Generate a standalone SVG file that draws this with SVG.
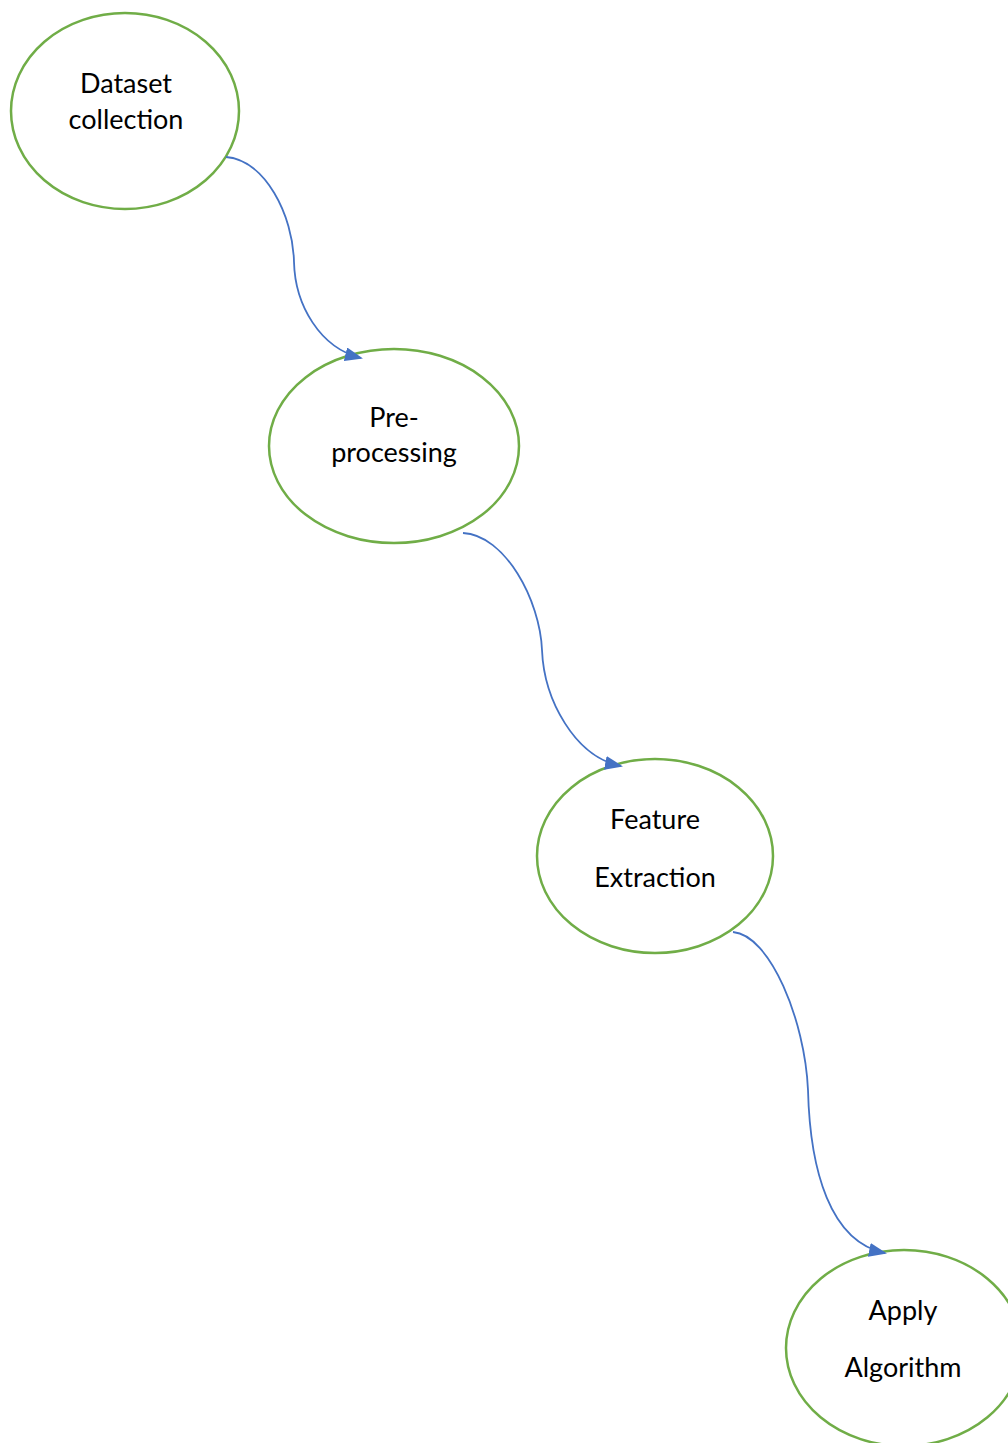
<svg xmlns="http://www.w3.org/2000/svg" width="1008" height="1443" viewBox="0 0 1008 1443">
  <style>
    .node { fill: #ffffff; stroke: #70AD47; stroke-width: 2.5; }
    .label { font-family: Lato, "Open Sans", sans-serif; font-size: 27px; fill: #000000; text-anchor: middle; }
    .edge { fill: none; stroke: #4472C4; stroke-width: 1.8; marker-end: url(#arrowhead); }
  </style>
  <defs>
    <marker id="arrowhead" viewBox="0 0 18 14" refX="16" refY="7" markerWidth="18" markerHeight="14" markerUnits="userSpaceOnUse" orient="auto">
      <path d="M0,0 L18,7 L0,14 Z" fill="#4472C4"/>
    </marker>
  </defs>
  <rect width="1008" height="1443" fill="#ffffff"/>

  <g id="node-dataset">
    <ellipse class="node" cx="125" cy="111" rx="114" ry="98"/>
    <text class="label" x="126" y="93">Dataset</text>
    <text class="label" x="126" y="129">collection</text>
  </g>

  <g id="node-preprocessing">
    <ellipse class="node" cx="394" cy="446" rx="125" ry="97"/>
    <text class="label" x="394" y="427">Pre-</text>
    <text class="label" x="394" y="462">processing</text>
  </g>

  <g id="node-features">
    <ellipse class="node" cx="655" cy="856" rx="118" ry="97"/>
    <text class="label" x="655" y="829">Feature</text>
    <text class="label" x="655" y="887">Extraction</text>
  </g>

  <g id="node-algorithm">
    <ellipse class="node" cx="904" cy="1348" rx="118" ry="98"/>
    <text class="label" x="903" y="1320">Apply</text>
    <text class="label" x="903" y="1377">Algorithm</text>
  </g>

  <!-- connectors drawn last so the arrowheads sit on top of the node outlines -->
  <g id="connectors">
    <path class="edge" d="M226,157 C265,160 293,215 294,262 C295,305 320,348 361,358"/>
    <path class="edge" d="M463,533 C505,535 540,600 542,650 C544,700 575,757 621,766"/>
    <path class="edge" d="M733,932 C770,935 805,1020 808,1090 C810,1170 830,1242 885,1253"/>
  </g>
</svg>
